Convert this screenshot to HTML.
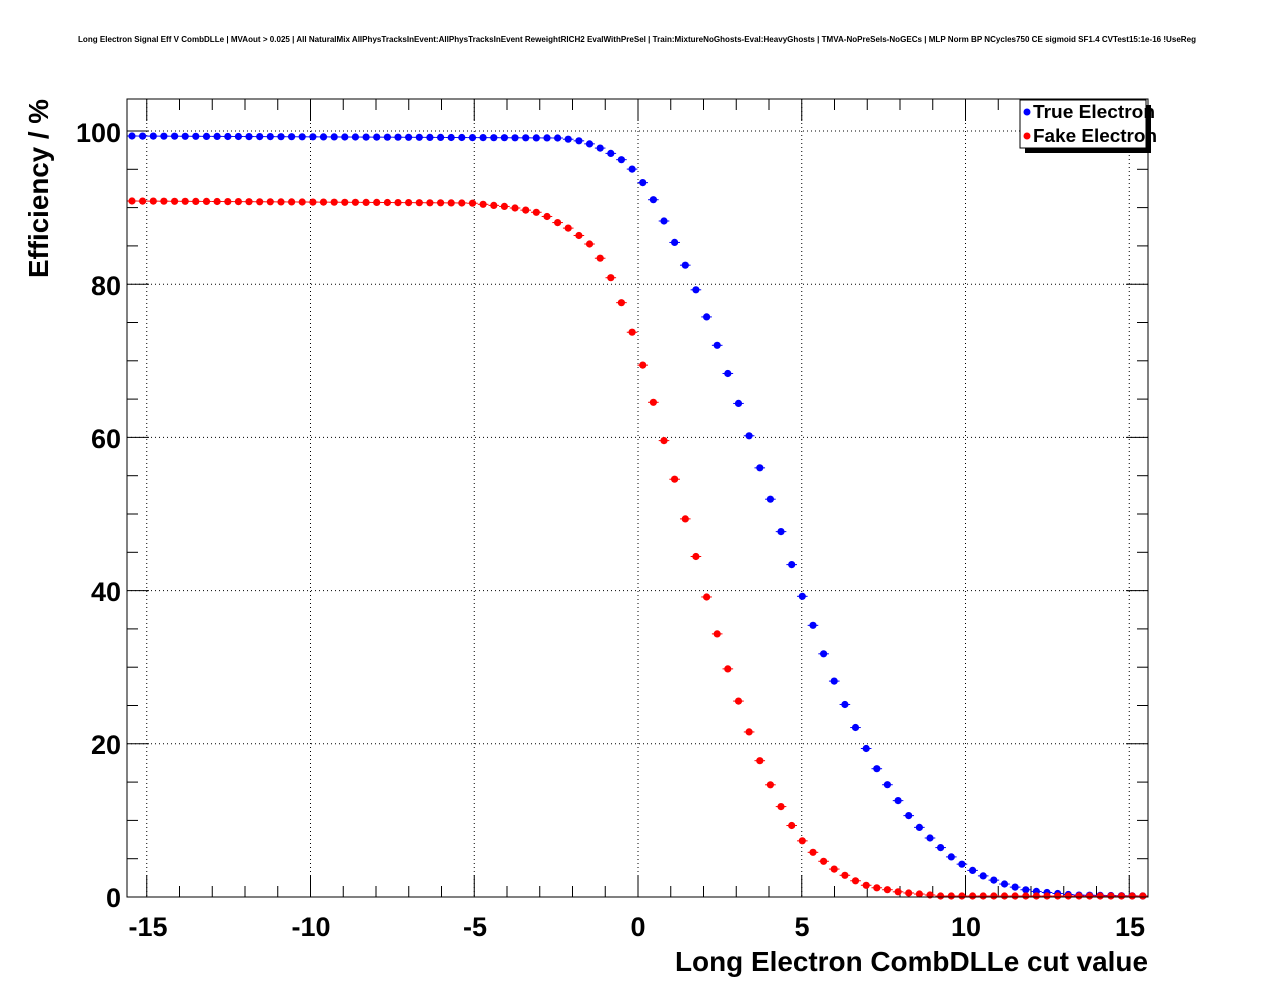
<!DOCTYPE html>
<html><head><meta charset="utf-8"><style>
html,body{margin:0;padding:0;background:#fff;width:1276px;height:996px;overflow:hidden}
svg text{font-family:"Liberation Sans",sans-serif;font-weight:bold}
</style></head><body>
<svg id="s" width="1276" height="996" xmlns="http://www.w3.org/2000/svg">
<rect width="1276" height="996" fill="#fff"/>
<text x="637" y="42" font-size="8" text-anchor="middle" textLength="1118" lengthAdjust="spacingAndGlyphs">Long Electron Signal Eff V CombDLLe | MVAout &gt; 0.025 | All NaturalMix AllPhysTracksInEvent:AllPhysTracksInEvent ReweightRICH2 EvalWithPreSel | Train:MixtureNoGhosts-Eval:HeavyGhosts | TMVA-NoPreSels-NoGECs | MLP Norm BP NCycles750 CE sigmoid SF1.4 CVTest15:1e-16 !UseReg</text>
<g id="g"></g>
<rect x="127" y="99" width="1021" height="798" fill="none" stroke="#000" stroke-width="1"/>
<g font-size="27">
<text x="148" y="936" text-anchor="middle">-15</text>
<text x="311" y="936" text-anchor="middle">-10</text>
<text x="475" y="936" text-anchor="middle">-5</text>
<text x="638" y="936" text-anchor="middle">0</text>
<text x="802" y="936" text-anchor="middle">5</text>
<text x="966" y="936" text-anchor="middle">10</text>
<text x="1130" y="936" text-anchor="middle">15</text>
<text x="121" y="907" text-anchor="end">0</text>
<text x="121" y="754" text-anchor="end">20</text>
<text x="121" y="601" text-anchor="end">40</text>
<text x="121" y="448" text-anchor="end">60</text>
<text x="121" y="295" text-anchor="end">80</text>
<text x="121" y="142" text-anchor="end">100</text>
</g>
<text x="1148" y="971" font-size="28" text-anchor="end" textLength="473" lengthAdjust="spacingAndGlyphs">Long Electron CombDLLe cut value</text>
<text transform="translate(48,99) rotate(-90)" font-size="28" text-anchor="end" textLength="179" lengthAdjust="spacingAndGlyphs">Efficiency / %</text>
<rect x="1025" y="105" width="126" height="48" fill="#000"/>
<rect x="1020" y="100" width="126" height="48" fill="#fff" stroke="#000"/>
<circle cx="1027" cy="112" r="3.5" fill="#00f"/>
<text x="1033" y="118" font-size="18" textLength="122" lengthAdjust="spacingAndGlyphs">True Electron</text>
<circle cx="1027" cy="136" r="3.5" fill="#f00"/>
<text x="1033" y="142" font-size="18" textLength="124" lengthAdjust="spacingAndGlyphs">Fake Electron</text>
</svg>
<script>
var g=document.getElementById('g'),h='';
function L(a,b,c,d,ex,col){h+='<line x1="'+a+'" y1="'+b+'" x2="'+c+'" y2="'+d+'" stroke="'+(col||'#000')+'" stroke-width="1" '+(ex||'')+'/>';}
for(var v=-15;v<=15;v+=5){var x=638+v*32.75;L(x,99,x,897,'stroke-dasharray="1,3"');}
for(var v=0;v<=100;v+=20){var y=897-v*7.66;L(127,y,1148,y,'stroke-dasharray="1,3"');}
for(var v=-15;v<=15;v++){var x=638+v*32.75,t=(v%5==0)?22:11;L(x,897,x,897-t);L(x,99,x,99+t);}
for(var v=0;v<=104;v+=5){var y=897-v*7.66,t=(v%20==0)?22:11;L(127,y,127+t,y);L(1148,y,1148-t,y);}
var B=[[131,136],[560,138],[580,141],[590,144],[600,148],[612,154],[622,160],[632,169],[643,183],[653,199],[662,217],[673,239],[683,260],[694,285],[704,310],[714,337],[724,363],[735,393],[745,423],[755,454],[766,486],[776,516],[786,547],[796,578],[806,607],[817,636],[827,663],[837,688],[848,711],[858,733],[868,752],[878,771],[889,787],[899,802],[909,816],[919,827],[930,838],[940,847],[950,856],[960,863],[970,869],[981,875],[991,879],[1001,883],[1011,886],[1022,889],[1032,891],[1042,892],[1052,893],[1063,894],[1073,895],[1146,896]];
var R=[[131,201],[470,203],[480,204],[490,205],[500,206],[510,207],[520,209],[530,211],[540,213],[550,218],[560,224],[572,230],[582,238],[592,246],[602,261],[612,280],[622,304],[632,332],[643,366],[653,401],[663,437],[673,473],[683,511],[694,549],[704,588],[714,623],[724,657],[735,691],[745,720],[755,749],[766,776],[776,796],[786,817],[796,832],[806,846],[817,856],[827,864],[837,871],[848,877],[858,882],[868,886],[878,888],[889,890],[899,892],[909,893],[919,894],[930,895],[940,896],[1146,896]];
function I(P,x){for(var i=0;i<P.length-1;i++){if(x<=P[i+1][0]){var f=(x-P[i][0])/(P[i+1][0]-P[i][0]);return P[i][1]+f*(P[i+1][1]-P[i][1]);}}return P[P.length-1][1];}
for(var i=0;i<=95;i++){var x=132+i*10.64;
[[B,'#00f'],[R,'#f00']].forEach(function(p){var y=I(p[0],x);L(x-5.3,y,x+5.3,y,'',p[1]);h+='<circle cx="'+x.toFixed(1)+'" cy="'+y.toFixed(1)+'" r="3.6" fill="'+p[1]+'"/>';});}
g.innerHTML=h;
</script>
</body></html>
